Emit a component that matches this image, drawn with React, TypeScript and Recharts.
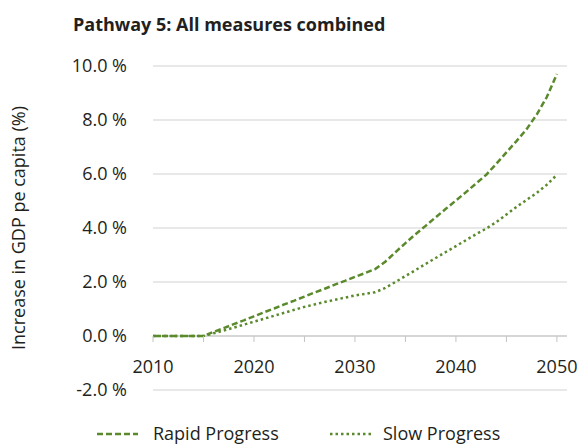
import React from "react";
import { LineChart, Line, XAxis, YAxis, CartesianGrid, ReferenceLine } from "recharts";

// years on the x axis
const years = [
  2010, 2011, 2012, 2013, 2014, 2015, 2016, 2017, 2018, 2019,
  2020, 2021, 2022, 2023, 2024, 2025, 2026, 2027, 2028, 2029,
  2030, 2031, 2032, 2033, 2034, 2035, 2036, 2037, 2038, 2039,
  2040, 2041, 2042, 2043, 2044, 2045, 2046, 2047, 2048, 2049, 2050,
];

// increase in GDP per capita, %
const rapidProgress = [
  0, 0, 0, 0, 0, 0, 0.15, 0.29, 0.44, 0.58,
  0.73, 0.88, 1.02, 1.17, 1.31, 1.46, 1.61, 1.75, 1.9, 2.04,
  2.19, 2.33, 2.48, 2.75, 3.1, 3.44, 3.77, 4.08, 4.4, 4.71,
  5.02, 5.33, 5.65, 5.97, 6.38, 6.8, 7.22, 7.66, 8.2, 8.85, 9.7,
];

const slowProgress = [
  0, 0, 0, 0, 0, 0, 0.1, 0.2, 0.31, 0.42,
  0.53, 0.64, 0.75, 0.86, 0.97, 1.08, 1.17, 1.26, 1.34, 1.42,
  1.5, 1.56, 1.62, 1.78, 2.0, 2.22, 2.44, 2.67, 2.89, 3.11,
  3.33, 3.55, 3.77, 3.98, 4.22, 4.5, 4.78, 5.04, 5.3, 5.6, 5.97,
];

const xTicks = [2010, 2015, 2020, 2025, 2030, 2035, 2040, 2045, 2050];
const xLabelYears = [2010, 2020, 2030, 2040, 2050];
const yTicks = [-2, 0, 2, 4, 6, 8, 10];

const data = years.map((year, i) => ({
  year,
  rapid: rapidProgress[i],
  slow: slowProgress[i],
}));

const W = 581;
const H = 445;
const FONT = "'Open Sans', sans-serif";
const TEXT = "#231f20";
const GREEN = "#5b8a2d";
const Y_MIN = -2;
const Y_MAX = 10;
const PLOT_TOP = 66;
const PLOT_BOTTOM = 390;

// x ticks sit on the 0 % line, not at the bottom of the plot
const XTick = (props: any) => {
  const { x, y, payload } = props;
  const zeroY = y - ((0 - Y_MIN) / (Y_MAX - Y_MIN)) * (PLOT_BOTTOM - PLOT_TOP);
  return (
    <g>
      <line x1={x} x2={x} y1={zeroY} y2={zeroY + 6} stroke="#c4c4c4" strokeWidth={1} />
      {xLabelYears.includes(payload.value) && (
        <text x={x} y={zeroY + 37} textAnchor="middle" fill={TEXT} fontSize={18} fontFamily={FONT}>
          {payload.value}
        </text>
      )}
    </g>
  );
};

const YLabel = (props: any) => {
  const vb = props.viewBox;
  const cx = 18;
  const cy = vb.y + vb.height / 2;
  return (
    <text
      x={cx}
      y={cy}
      transform={`rotate(-90 ${cx} ${cy})`}
      textAnchor="middle"
      dominantBaseline="central"
      fill={TEXT}
      fontSize={18}
      fontFamily={FONT}
    >
      Increase in GDP pe capita (%)
    </text>
  );
};

export default function App() {
  return (
    <div style={{ position: "absolute", left: 0, top: 0, width: W, height: H, background: "#fff" }}>
      <LineChart
        width={W}
        height={H}
        data={data}
        margin={{ top: PLOT_TOP, right: 14, bottom: 0, left: 0 }}
      >
        <CartesianGrid vertical={false} stroke="#d2d2d2" strokeWidth={1.2} />
        <XAxis
          type="number"
          dataKey="year"
          domain={[2010, 2051]}
          ticks={xTicks}
          interval={0}
          tick={<XTick />}
          tickLine={false}
          axisLine={false}
          tickSize={0}
          tickMargin={0}
          height={H - PLOT_BOTTOM}
        />
        <YAxis
          domain={[Y_MIN, Y_MAX]}
          ticks={yTicks}
          interval={0}
          width={153}
          tickLine={false}
          axisLine={false}
          tickSize={6}
          tickMargin={20}
          tickFormatter={(v: number) => `${v.toFixed(1)} %`}
          tick={{ fill: TEXT, fontSize: 18, fontFamily: FONT }}
          label={YLabel}
        />
        <ReferenceLine y={0} stroke="#c4c4c4" strokeWidth={1.2} />
        <Line
          type="linear"
          dataKey="slow"
          stroke={GREEN}
          strokeWidth={2.5}
          strokeDasharray="2.5 3"
          dot={false}
          isAnimationActive={false}
        />
        <Line
          type="linear"
          dataKey="rapid"
          stroke={GREEN}
          strokeWidth={2.5}
          strokeDasharray="6 3"
          dot={false}
          isAnimationActive={false}
        />
      </LineChart>
      <svg width={W} height={H} style={{ position: "absolute", left: 0, top: 0, pointerEvents: "none" }}>
        <text x={73} y={31} fill={TEXT} fontSize={18} fontWeight={700} fontFamily={FONT}>
          Pathway 5: All measures combined
        </text>
        <line x1={97} x2={138} y1={434} y2={434} stroke={GREEN} strokeWidth={2.5} strokeDasharray="6 3" />
        <text x={153} y={440} fill={TEXT} fontSize={18} fontFamily={FONT}>Rapid Progress</text>
        <line x1={330} x2={373} y1={434} y2={434} stroke={GREEN} strokeWidth={2.5} strokeDasharray="2.5 3" />
        <text x={383} y={440} fill={TEXT} fontSize={18} fontFamily={FONT}>Slow Progress</text>
      </svg>
    </div>
  );
}
